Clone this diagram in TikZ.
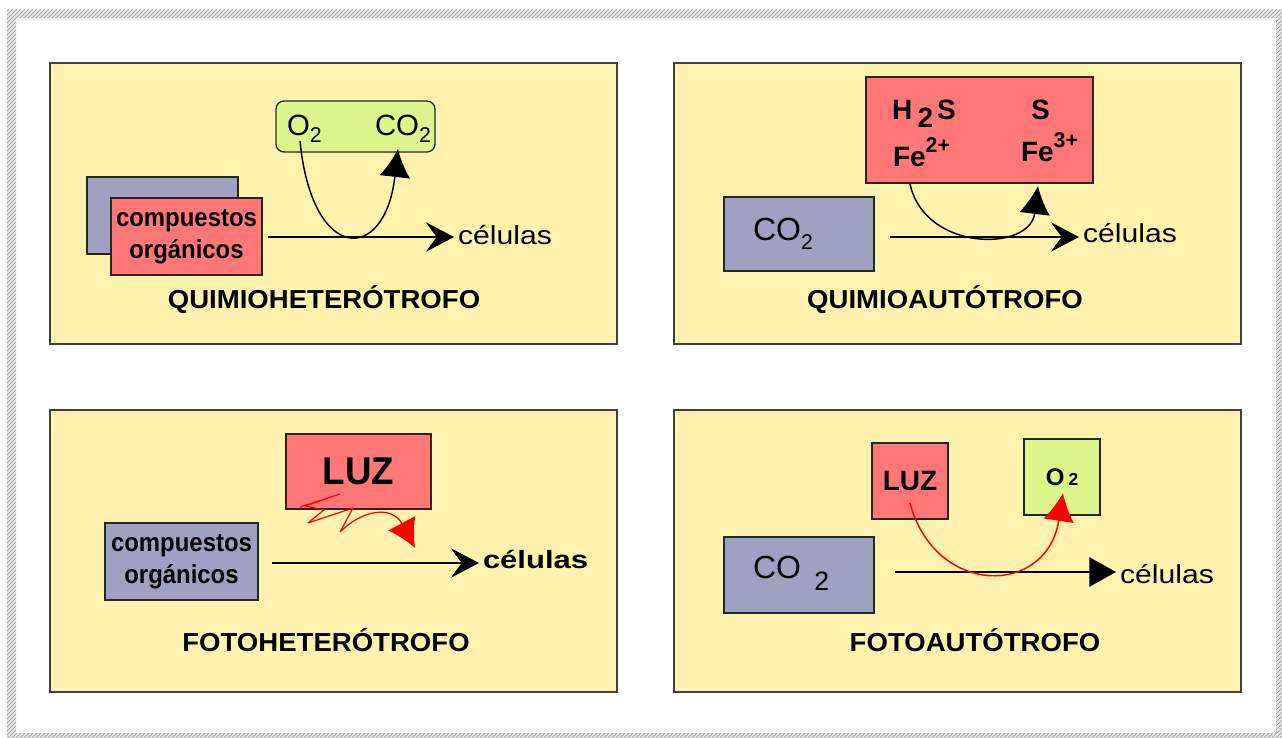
\documentclass[tikz,border=0pt]{standalone}
\usepackage{fontspec}
\setmainfont{Liberation Sans}
\usetikzlibrary{arrows.meta,patterns}

\definecolor{panelyellow}{RGB}{255,242,174}
\definecolor{boxred}{RGB}{255,119,119}
\definecolor{boxblue}{RGB}{160,160,192}
\definecolor{boxgreen}{RGB}{220,245,140}
\definecolor{inkred}{RGB}{255,0,0}

% font size (pt) and horizontal stretch helpers
\newcommand{\setfs}[2]{\fontsize{#1}{#2}\selectfont}
\newcommand{\wx}[2]{\scalebox{#1}[1]{#2}}

\tikzset{
  dims/.style 2 args={minimum width=#1*0.75pt, minimum height=#2*0.75pt},
  panelbox/.style={draw=black!75, line width=1.5pt, fill=panelyellow,
    anchor=north west, inner sep=0pt, outer sep=0pt},
  box/.style={draw=black!85, line width=1pt, anchor=north west,
    inner sep=0pt, outer sep=0pt, align=center},
  redbox/.style={box, fill=boxred},
  bluebox/.style={box, fill=boxblue},
  greenbox/.style={box, fill=boxgreen},
  txt/.style={inner sep=0pt, outer sep=0pt},
  title/.style={txt, anchor=base, font=\bfseries\setfs{19.5}{19.5}},
  flow/.style={line width=1.4pt, shorten >=3pt,
    -{Stealth[length=21pt, width=22pt, inset=8pt]}},
  flowtri/.style={line width=1.4pt, shorten >=3pt,
    -{Triangle[length=20pt, width=22pt]}},
  cycle/.style={line width=1.1pt, -{Latex[length=21pt, width=23pt]}},
  redcycle/.style={cycle, draw=inkred},
  hatch/.style={fill=gray!20, postaction={pattern=north east lines, pattern color=gray!80}},
}

\begin{document}
\begin{tikzpicture}[x=0.75pt, y=-0.75pt]
\useasboundingbox (0,0) rectangle (1282,738);
\fill[white] (0,0) rectangle (1282,738);

% hatched outer frame
\path[hatch] (7,10) rectangle (1282,18);
\path[hatch] (7,10) rectangle (16,738);
\path[hatch] (1276,10) rectangle (1282,738);
\path[hatch] (7,733) rectangle (1282,738);

% the four panels
\node[panelbox, dims={567}{281}] (pan1) at (50,63) {};
\node[panelbox, dims={567}{281}] (pan2) at (674,63) {};
\node[panelbox, dims={567}{282}] (pan3) at (50,410) {};
\node[panelbox, dims={567}{282}] (pan4) at (674,410) {};

% ---------------- chemoheterotroph ----------------
\node[bluebox, dims={151}{77}] (p1back) at (87,177) {};
\node[redbox, dims={151}{77}, font=\bfseries\setfs{19.5}{24}] (p1org) at (111,198)
  {\wx{0.92}{compuestos}\\\wx{0.92}{orgánicos}};
\node[greenbox, rounded corners=6pt, dims={159}{51}] (p1gas) at (276,101) {};
\node[txt, anchor=base west, font=\setfs{22}{22}] (p1o2) at (287,136)
  {O\raisebox{-5pt}{\setfs{16}{16}2}};
\node[txt, anchor=base west, font=\setfs{22}{22}] (p1co2) at (375,136)
  {CO\raisebox{-5pt}{\setfs{16}{16}2}};
\coordinate (p1a) at (268,237);
\node[txt, anchor=base west, font=\setfs{19.5}{19.5}] (p1cel) at (458,244) {\wx{1.16}{células}};
\draw[flow] (p1a) -- (p1a -| p1cel.west);
\coordinate (p1s) at (300,141);
\coordinate (p1e) at (398,149);
\draw[cycle] (p1s) .. controls (312,264) and (385,264) .. (p1e);
\node[title] (p1lab) at (324,308) {\wx{1.06}{QUIMIOHETERÓTROFO}};

% ---------------- chemoautotroph ----------------
\node[redbox, dims={227}{106}] (p2ox) at (866,77) {};
\node[txt, anchor=base west, font=\bfseries\setfs{21}{21}] (p2h2s) at (892,120)
  {H\kern4pt\raisebox{-6pt}{2}\kern3pt S};
\node[txt, anchor=base west, font=\bfseries\setfs{21}{21}] (p2fe2) at (893,167)
  {Fe\raisebox{11pt}{\setfs{16}{16}2+}};
\node[txt, anchor=base west, font=\bfseries\setfs{21}{21}] (p2s) at (1031,120) {S};
\node[txt, anchor=base west, font=\bfseries\setfs{21}{21}] (p2fe3) at (1021,162)
  {Fe\raisebox{11pt}{\setfs{16}{16}3+}};
\node[bluebox, dims={150}{74}] (p2co2) at (724,197) {};
\node[txt, anchor=base west, font=\setfs{24}{24}] (p2co2t) at (753,240)
  {CO\raisebox{-7pt}{\setfs{16}{16}2}};
\coordinate (p2a) at (890,237);
\node[txt, anchor=base west, font=\setfs{19.5}{19.5}] (p2cel) at (1083,243) {\wx{1.16}{células}};
\draw[flow] (p2a) -- (p2a -| p2cel.west);
\coordinate (p2s) at (910,184);
\coordinate (p2e) at (1038,186);
\draw[cycle] (p2s) .. controls (925,252) and (1030,252) .. (p2e);
\node[title] (p2lab) at (945,308) {\wx{1.06}{QUIMIOAUTÓTROFO}};

% ---------------- photoheterotroph ----------------
\node[redbox, dims={145}{75}, font=\bfseries\setfs{29}{29}] (p3luz) at (286,434) {\wx{0.95}{LUZ}};
\node[bluebox, dims={153}{77}, font=\bfseries\setfs{19.5}{24}] (p3org) at (105,523)
  {\wx{0.92}{compuestos}\\\wx{0.92}{orgánicos}};
\coordinate (p3a) at (272,563);
\node[txt, anchor=base west, font=\bfseries\setfs{18.75}{18.75}] (p3cel) at (483,568) {\wx{1.24}{células}};
\draw[flow] (p3a) -- (p3a -| p3cel.west);
% zigzag light ray
\coordinate (z1) at (300,507);
\coordinate (z2) at (340,494);
\coordinate (z3) at (305,506);
\coordinate (z4) at (324,510);
\coordinate (z5) at (308,523);
\coordinate (z6) at (353,508);
\coordinate (z7) at (340,532);
\coordinate (z8) at (415,548);
\draw[redcycle, line width=0.9pt, line join=bevel] (z1) -- (z2) -- (z3) -- (z4) -- (z5)
  -- (z6) -- (z7) .. controls (362,510) and (392,505) .. (z8);
\node[title] (p3lab) at (326,651) {\wx{1.06}{FOTOHETERÓTROFO}};

% ---------------- photoautotroph ----------------
\node[redbox, dims={76}{76}, font=\bfseries\setfs{21}{21}] (p4luz) at (872,443) {LUZ};
\node[greenbox, dims={76}{76}, font=\bfseries\setfs{18}{18}] (p4o2) at (1024,439)
  {O\kern3pt{\setfs{13}{13}2}};
\node[bluebox, dims={150}{76}] (p4co2) at (724,537) {};
\node[txt, anchor=base west, font=\setfs{24}{24}] (p4co2t) at (753,578)
  {CO\kern10pt\raisebox{-9pt}{\setfs{20}{20}2}};
\coordinate (p4a) at (895,572);
\node[txt, anchor=base west, font=\setfs{19.5}{19.5}] (p4cel) at (1120,583) {\wx{1.16}{células}};
\draw[flowtri] (p4a) -- (p4a -| p4cel.west);
\coordinate (p4s) at (910,503);
\coordinate (p4e) at (1063,493);
\draw[redcycle] (p4s) .. controls (935,597) and (1047,597) .. (p4e);
\node[title] (p4lab) at (975,651) {\wx{1.06}{FOTOAUTÓTROFO}};
\end{tikzpicture}
\end{document}
